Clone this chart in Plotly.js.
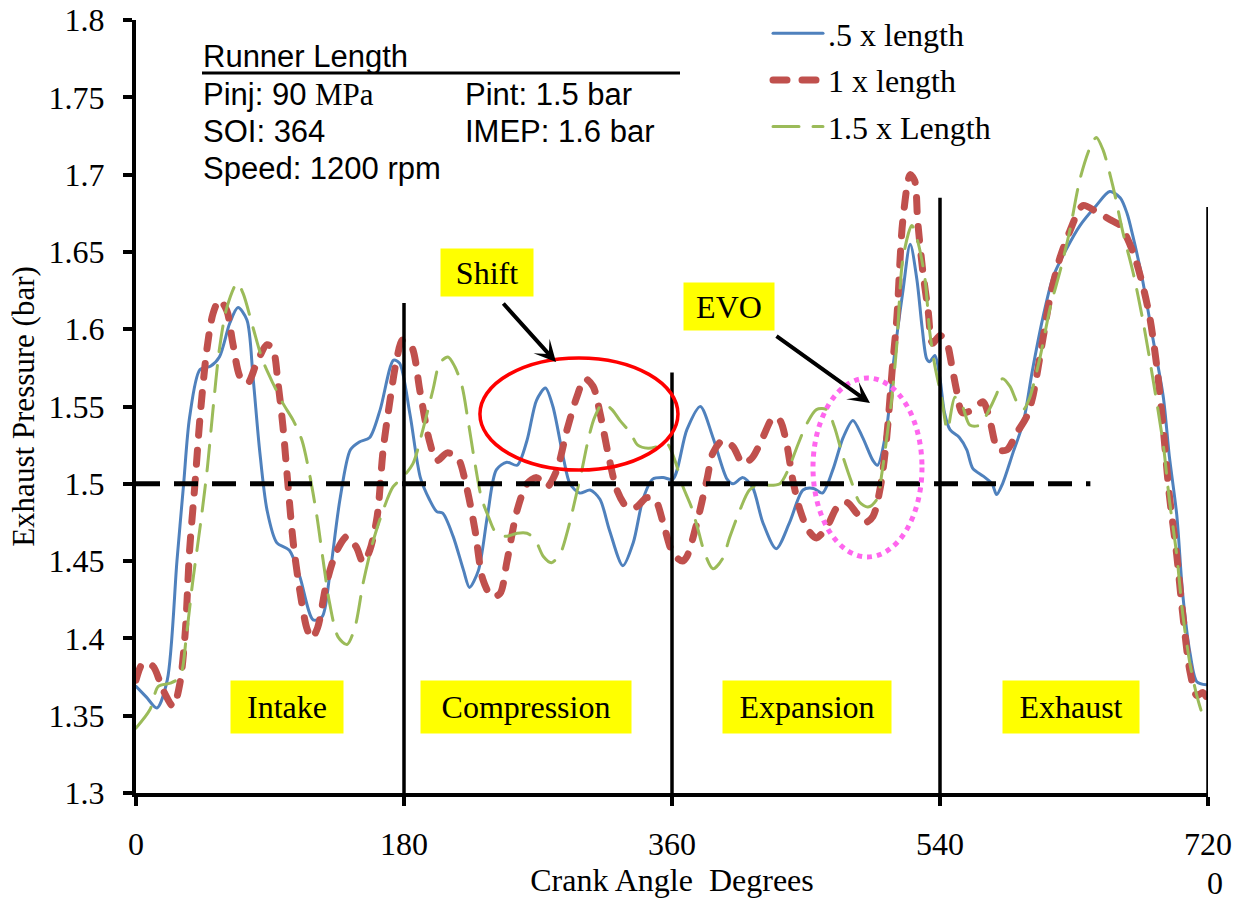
<!DOCTYPE html>
<html>
<head>
<meta charset="utf-8">
<script src="https://cdn.plot.ly/plotly-3.0.1.min.js"></script>
<style>
  html, body { margin: 0; padding: 0; background: #ffffff; }
  #chart { width: 1245px; height: 902px; }
  .scatterlayer .js-line, .legend .js-line { stroke-linecap: round; }
</style>
</head>
<body>
<div id="chart"></div>
<script>
// ---- Data ----
const seriesNames = ['.5 x length', '1 x length', '1.5 x Length'];

const crankHalf = [0, 7, 14, 21, 27.5, 32, 36, 43, 50, 56, 63, 68.5, 74.5, 78.6, 83, 88, 94.5, 103, 110, 119, 125, 130, 137, 144, 150, 157, 164, 173, 177, 184, 191, 197, 202, 206, 213, 220, 224, 230, 236, 242, 249, 256, 262.6, 269, 275, 280, 287, 291.5, 298, 305, 311.6, 318, 327, 334, 340.5, 347, 354, 360.6, 370, 379, 387.5, 397, 401, 407.6, 414, 421, 430, 439, 448, 455, 461, 468, 475, 481.5, 488, 495, 498, 504, 508.6, 515, 520, 524.5, 528, 531, 533, 536.6, 540, 543, 546.7, 553, 558, 562, 569, 575, 578, 582, 589, 596, 602, 609, 616, 625, 634, 645, 654, 661, 665.6, 669.6, 676, 683, 690, 694, 699, 703, 708, 712.5, 719];
const pressHalf = [1.369, 1.362, 1.355, 1.373, 1.450, 1.500, 1.543, 1.574, 1.576, 1.582, 1.604, 1.614, 1.606, 1.569, 1.522, 1.483, 1.462, 1.457, 1.440, 1.412, 1.414, 1.440, 1.490, 1.522, 1.527, 1.530, 1.548, 1.580, 1.578, 1.545, 1.504, 1.490, 1.482, 1.481, 1.466, 1.444, 1.433, 1.444, 1.479, 1.509, 1.514, 1.512, 1.528, 1.554, 1.562, 1.550, 1.517, 1.500, 1.494, 1.496, 1.490, 1.470, 1.447, 1.462, 1.490, 1.503, 1.504, 1.503, 1.535, 1.550, 1.530, 1.503, 1.500, 1.504, 1.498, 1.475, 1.458, 1.475, 1.496, 1.497, 1.494, 1.509, 1.530, 1.541, 1.530, 1.515, 1.512, 1.535, 1.577, 1.624, 1.655, 1.632, 1.601, 1.581, 1.579, 1.583, 1.568, 1.546, 1.535, 1.530, 1.522, 1.510, 1.505, 1.500, 1.493, 1.500, 1.520, 1.540, 1.573, 1.607, 1.634, 1.652, 1.667, 1.680, 1.689, 1.685, 1.675, 1.660, 1.632, 1.594, 1.556, 1.518, 1.480, 1.429, 1.390, 1.372, 1.370];

const crankOne = [0, 4.7, 11.4, 18, 25, 29.5, 33, 36, 39.6, 43, 47.6, 51.7, 56, 61, 65, 70, 75, 81, 88, 92, 95.4, 98.7, 102, 105.6, 110, 114.6, 118, 122, 128, 135, 141.7, 148, 152.6, 157, 162, 166, 170.6, 175, 179, 185, 190.7, 197, 202, 209, 216, 222, 227.7, 233, 239, 244.5, 249, 256, 262.6, 269, 276, 282.7, 289.5, 296, 301.5, 307, 311.6, 317, 323, 329.7, 336, 343, 348.6, 354, 360.6, 367, 370, 376.8, 383.5, 387.5, 394, 401, 407.6, 414, 421, 428, 432.5, 437, 441, 446, 451.5, 457, 464, 471, 477.5, 484, 490, 495, 500, 504, 508, 511, 515, 520, 523, 525, 528.5, 532, 535, 540, 544.6, 548, 551, 555, 562, 569, 573.5, 579, 585, 591.6, 598, 602, 609, 614, 620.5, 627, 636, 645, 654, 661, 669.6, 676, 681, 685.6, 690, 694, 699, 703, 708, 712.5, 716.6, 720];
const pressOne = [1.373, 1.384, 1.382, 1.367, 1.356, 1.371, 1.403, 1.457, 1.500, 1.543, 1.587, 1.610, 1.619, 1.612, 1.591, 1.569, 1.565, 1.578, 1.590, 1.587, 1.565, 1.537, 1.500, 1.462, 1.431, 1.407, 1.400, 1.407, 1.436, 1.457, 1.466, 1.459, 1.449, 1.457, 1.479, 1.522, 1.554, 1.580, 1.593, 1.589, 1.560, 1.528, 1.515, 1.520, 1.517, 1.498, 1.470, 1.438, 1.427, 1.429, 1.449, 1.483, 1.500, 1.504, 1.498, 1.509, 1.535, 1.556, 1.568, 1.563, 1.546, 1.520, 1.496, 1.485, 1.485, 1.491, 1.490, 1.475, 1.455, 1.450, 1.453, 1.475, 1.503, 1.520, 1.528, 1.524, 1.513, 1.517, 1.530, 1.543, 1.541, 1.526, 1.503, 1.483, 1.470, 1.465, 1.472, 1.485, 1.488, 1.481, 1.475, 1.479, 1.498, 1.528, 1.575, 1.607, 1.670, 1.700, 1.696, 1.670, 1.637, 1.612, 1.591, 1.596, 1.591, 1.576, 1.561, 1.546, 1.548, 1.553, 1.541, 1.522, 1.522, 1.533, 1.543, 1.555, 1.593, 1.621, 1.646, 1.663, 1.680, 1.676, 1.671, 1.667, 1.650, 1.629, 1.607, 1.576, 1.535, 1.493, 1.454, 1.416, 1.378, 1.363, 1.365, 1.360];

const crankOneHalf = [0, 9.4, 15, 23, 29.5, 34, 38, 44, 48, 51.7, 56, 61, 68, 72, 78.6, 85, 92, 98.7, 105.6, 111.5, 117, 121.5, 125.6, 130, 135.7, 141.7, 147, 152.6, 159, 166, 172.6, 179, 186, 192.7, 199.5, 204, 209.5, 214, 219, 223, 227.7, 232, 236.6, 242, 249, 256, 262.6, 268, 273.6, 279, 285, 290, 295, 299.5, 303.6, 308, 313.6, 319.7, 325, 332, 337, 344, 350, 356.6, 362, 367, 373, 377.6, 382, 387.5, 393.6, 399, 405.6, 412, 419, 425.8, 432.5, 438, 444, 450.6, 457, 464, 469, 475, 481, 486, 491.6, 497.6, 501, 504, 507.7, 511, 515, 521, 525, 530, 533, 536.6, 541, 545, 550, 554.7, 560, 567, 572, 578, 582, 587, 591.6, 596, 600, 607, 614, 620.5, 627, 634, 641, 645, 649.5, 656, 663, 669.6, 676, 683, 690, 694, 699, 703, 708, 712.5, 718];
const pressOneHalf = [1.342, 1.354, 1.369, 1.371, 1.375, 1.403, 1.436, 1.479, 1.511, 1.548, 1.587, 1.614, 1.630, 1.623, 1.601, 1.580, 1.565, 1.552, 1.541, 1.528, 1.504, 1.479, 1.451, 1.423, 1.401, 1.396, 1.407, 1.436, 1.462, 1.483, 1.498, 1.504, 1.513, 1.535, 1.561, 1.578, 1.582, 1.576, 1.563, 1.541, 1.513, 1.491, 1.479, 1.468, 1.466, 1.468, 1.468, 1.464, 1.453, 1.449, 1.455, 1.470, 1.490, 1.509, 1.528, 1.543, 1.552, 1.548, 1.541, 1.533, 1.525, 1.523, 1.524, 1.526, 1.515, 1.499, 1.485, 1.470, 1.455, 1.445, 1.451, 1.466, 1.483, 1.496, 1.500, 1.499, 1.500, 1.509, 1.524, 1.539, 1.548, 1.548, 1.537, 1.517, 1.500, 1.488, 1.485, 1.490, 1.507, 1.528, 1.556, 1.590, 1.645, 1.667, 1.657, 1.632, 1.599, 1.576, 1.556, 1.535, 1.556, 1.551, 1.538, 1.538, 1.546, 1.558, 1.568, 1.563, 1.553, 1.548, 1.555, 1.581, 1.614, 1.637, 1.663, 1.697, 1.718, 1.724, 1.716, 1.693, 1.662, 1.637, 1.607, 1.568, 1.525, 1.490, 1.454, 1.416, 1.383, 1.363, 1.345];

const xTickVals = [0, 180, 360, 540, 720];
const xTickText = ['0', '180', '360', '540', '720'];
const phaseBoundaries = [180, 360, 540, 720];
const phaseLineTops = [1.617, 1.572, 1.685, 1.679];
const phaseNames = ['Intake', 'Compression', 'Expansion', 'Exhaust'];
const meanLineLevel = 1.5;
const meanLineEnd = 641;
const infoLines = ['Pinj: 90 <span style="font-family:\'Liberation Serif\'">MPa</span>', 'SOI: 364', 'Speed: 1200 rpm'];
const infoLinesRight = ['Pint: 1.5 bar', 'IMEP: 1.6 bar'];

// ---- Geometry helpers (pixel -> paper) ----
const W = 1245, H = 902;
const M = { l: 136, r: 37, t: 20, b: 109, autoexpand: false };
const PW = W - M.l - M.r, PH = H - M.t - M.b;
const px = v => (v - M.l) / PW;
const py = v => (H - M.b - v) / PH;

const serif = 'Liberation Serif, Times New Roman, serif';
const sans = 'Liberation Sans, Arial, sans-serif';

const traces = [
  { x: crankHalf, y: pressHalf, name: seriesNames[0], legendgroup: 'a', mode: 'lines',
    line: { color: '#4F81BD', width: 3, shape: 'spline', smoothing: 0.8 } },
  { x: crankOne, y: pressOne, name: seriesNames[1], legendgroup: 'b', mode: 'lines',
    line: { color: '#C0504D', width: 7, dash: '14px,15px', shape: 'spline', smoothing: 0.8 } },
  { x: crankOneHalf, y: pressOneHalf, name: seriesNames[2], legendgroup: 'c', mode: 'lines',
    line: { color: '#9BBB59', width: 3, dash: '26px,14px', shape: 'spline', smoothing: 0.8 } }
];

const shapes = [];
phaseBoundaries.forEach((b, i) => {
  shapes.push({ type: 'line', xref: 'x', yref: 'y', x0: b, x1: b, y0: 1.3, y1: phaseLineTops[i],
    line: { color: '#000000', width: 3.5 }, layer: 'above' });
});
shapes.push({ type: 'line', xref: 'x', yref: 'y', x0: 0, x1: meanLineEnd, y0: meanLineLevel, y1: meanLineLevel,
  line: { color: '#000000', width: 5, dash: '24px,14px' }, layer: 'above' });
shapes.push({ type: 'circle', xref: 'x', yref: 'y', x0: 231, x1: 364, y0: 1.5089, y1: 1.5814,
  line: { color: '#FF0000', width: 3.5 }, layer: 'above' });
shapes.push({ type: 'circle', xref: 'x', yref: 'y', x0: 454.7, x1: 527.9, y0: 1.4527, y1: 1.5684,
  line: { color: '#FF66EE', width: 5, dash: 'dot' }, layer: 'above' });
shapes.push({ type: 'line', xref: 'paper', yref: 'paper', x0: px(202), x1: px(680), y0: py(73), y1: py(73),
  line: { color: '#000000', width: 3 } });

const annotations = [];
// text block
annotations.push({ xref: 'paper', yref: 'paper', x: px(201), y: py(57), xanchor: 'left', yanchor: 'middle',
  text: 'Runner Length', showarrow: false, font: { family: sans, size: 31, color: '#000' } });
infoLines.forEach((t, i) => {
  annotations.push({ xref: 'paper', yref: 'paper', x: px(201), y: py(94 + i * 37), xanchor: 'left', yanchor: 'middle',
    text: t, showarrow: false, font: { family: sans, size: 31, color: '#000' } });
});
infoLinesRight.forEach((t, i) => {
  annotations.push({ xref: 'paper', yref: 'paper', x: px(463), y: py(94 + i * 37), xanchor: 'left', yanchor: 'middle',
    text: t, showarrow: false, font: { family: sans, size: 31, color: '#000' } });
});
// phase labels in yellow boxes
const phaseBoxes = [[287, 112], [525.5, 210], [806.5, 168], [1071, 136]];
phaseNames.forEach((n, i) => {
  annotations.push({ xref: 'paper', yref: 'paper', x: px(phaseBoxes[i][0]), y: py(707), xanchor: 'center', yanchor: 'middle',
    text: n, showarrow: false, bgcolor: '#FFFF00', borderpad: 0, width: phaseBoxes[i][1], height: 52,
    font: { family: serif, size: 32, color: '#000' } });
});
annotations.push({ xref: 'paper', yref: 'paper', x: px(487), y: py(272), xanchor: 'center', yanchor: 'middle',
  text: 'Shift', showarrow: false, bgcolor: '#FFFF00', borderpad: 0, width: 92, height: 47,
  font: { family: serif, size: 32, color: '#000' } });
annotations.push({ xref: 'paper', yref: 'paper', x: px(728.5), y: py(306), xanchor: 'center', yanchor: 'middle',
  text: 'EVO', showarrow: false, bgcolor: '#FFFF00', borderpad: 0, width: 90, height: 47,
  font: { family: serif, size: 32, color: '#000' } });
// arrows
annotations.push({ xref: 'paper', yref: 'paper', x: px(556), y: py(362), text: '', showarrow: true,
  ax: -54, ay: -60, arrowhead: 3, arrowsize: 0.9, arrowwidth: 4, arrowcolor: '#000', standoff: 0 });
annotations.push({ xref: 'paper', yref: 'paper', x: px(870), y: py(403), text: '', showarrow: true,
  ax: -95, ay: -68, arrowhead: 3, arrowsize: 0.9, arrowwidth: 4, arrowcolor: '#000', standoff: 0 });
// the stray "0" below 720
annotations.push({ xref: 'paper', yref: 'paper', x: px(1215), y: py(883), xanchor: 'center', yanchor: 'middle',
  text: '0', showarrow: false, font: { family: serif, size: 32, color: '#000' } });

const layout = {
  width: W, height: H,
  margin: M,
  paper_bgcolor: '#ffffff', plot_bgcolor: '#ffffff',
  showlegend: true,
  legend: { x: px(768), y: py(6), xanchor: 'left', yanchor: 'top',
    bgcolor: 'rgba(0,0,0,0)',
    font: { family: serif, size: 32, color: '#000' }, itemwidth: 50, tracegroupgap: 2, traceorder: 'grouped' },
  xaxis: {
    range: [0, 720], tickvals: xTickVals, ticktext: xTickText,
    showgrid: false, zeroline: false, showline: true, linecolor: '#000', linewidth: 4,
    ticks: 'outside', ticklen: 9, tickwidth: 4, tickcolor: '#000',
    tickfont: { family: serif, size: 32, color: '#000' }, ticklabelstandoff: 11,
    title: { text: 'Crank Angle  Degrees', font: { family: serif, size: 32, color: '#000' }, standoff: 7 }
  },
  yaxis: {
    range: [1.3, 1.8], dtick: 0.05, tick0: 1.3,
    showgrid: false, zeroline: false, showline: true, linecolor: '#000', linewidth: 4,
    ticks: 'outside', ticklen: 9, tickwidth: 4, tickcolor: '#000',
    tickfont: { family: serif, size: 32, color: '#000' }, ticklabelstandoff: 12,
    title: { text: 'Exhaust Pressure (bar)', font: { family: serif, size: 31, color: '#000' }, standoff: 6 }
  },
  shapes: shapes,
  annotations: annotations
};

Plotly.newPlot('chart', traces, layout, { displayModeBar: false, staticPlot: true });
</script>
</body>
</html>
